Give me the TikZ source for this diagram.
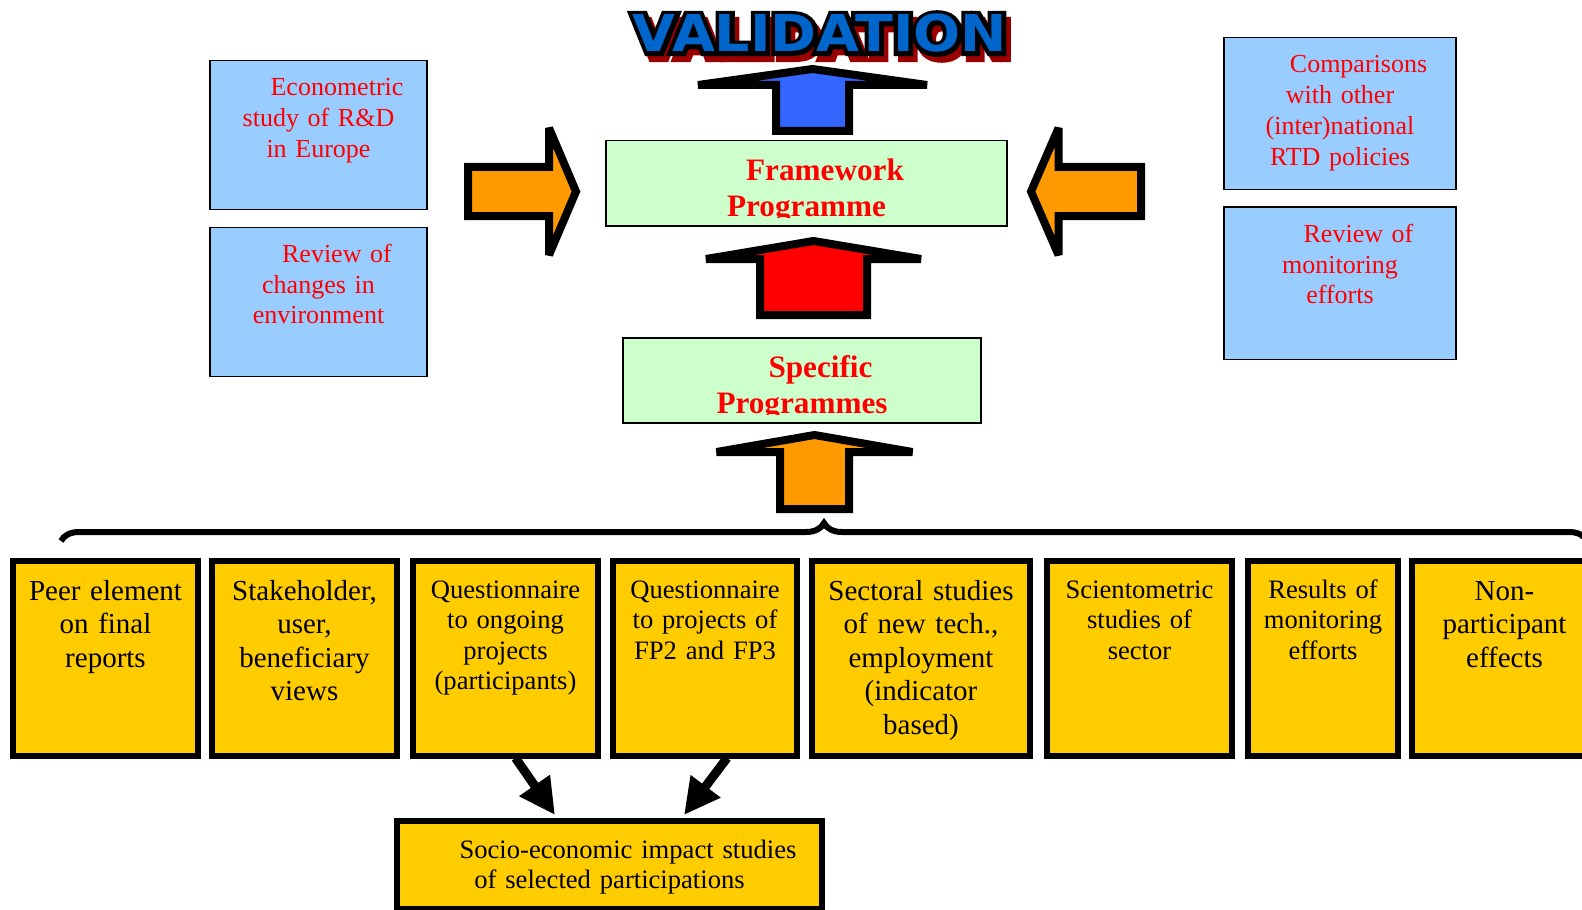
\documentclass[tikz,border=0pt]{standalone}
\usepackage{fontspec}
\setmainfont{Liberation Serif}
\newfontfamily\titlefont{DejaVu Sans Bold}
\newfontfamily\titlerim{DejaVu Sans Bold}[FakeBold=16]
\usetikzlibrary{arrows.meta, positioning, calc, decorations.pathreplacing}
\definecolor{skyfill}{HTML}{99CCFF}
\definecolor{mintfill}{HTML}{CCFFCC}
\definecolor{goldfill}{HTML}{FFCC00}
\definecolor{orangefill}{HTML}{FF9900}
\definecolor{royalfill}{HTML}{3366FF}
\definecolor{titleblue}{HTML}{0066CC}
\definecolor{titleshade}{HTML}{990000}
\tikzset{
  skybox/.style    = {draw=black, line width=0.75pt, fill=skyfill, text=red,
                      font=\fontsize{13}{15.4}\selectfont, align=center, anchor=north,
                      inner sep=0pt, text height=17.5pt},
  mintbox/.style   = {draw=black, line width=0.75pt, fill=mintfill, anchor=north, inner sep=0pt},
  mintlabel/.style = {text=red, font=\fontsize{15.6}{18}\selectfont\bfseries, align=center,
                      anchor=north, inner sep=0pt, text height=20pt},
  goldbox/.style   = {draw=black, line width=3pt, fill=goldfill, align=center, anchor=north,
                      inner sep=0pt, text height=19.5pt, text depth=78pt,
                      font=\fontsize{14.5}{16.75}\selectfont},
  goldsmall/.style = {goldbox, text height=18.5pt, text depth=79pt,
                      font=\fontsize{13.3}{15.25}\selectfont},
  blockarrow/.style = {draw=black, line width=4pt, miter limit=3},
  link/.style      = {line width=4.5pt, -{Triangle[length=18pt, width=17.5pt]}},
  groupbrace/.style = {decorate, decoration={brace, amplitude=9pt}, line width=3pt},
  titletext/.style = {anchor=base, inner sep=0pt, xscale=1.09,
                      font=\titlefont\fontsize{25.4}{30}\selectfont},
  titlerimtext/.style = {titletext, font=\titlerim\fontsize{25.4}{30}\selectfont},
}
\newcommand{\lead}{\hspace*{18.5pt}}
\newcommand{\blockup}[7]{%
  \draw[blockarrow, fill=#1] ({#2-#6},#3) -- ({#2-#6},#4) -- ({#2-#7},#4) -- (#2,#5)
    -- ({#2+#7},#4) -- ({#2+#6},#4) -- ({#2+#6},#3) -- cycle;}
\newcommand{\blockside}[7]{%
  \draw[blockarrow, fill=#1] (#3,{#2-#6}) -- (#4,{#2-#6}) -- (#4,{#2-#7}) -- (#5,#2)
    -- (#4,{#2+#7}) -- (#4,{#2+#6}) -- (#3,{#2+#6}) -- cycle;}

\begin{document}
\begin{tikzpicture}[x=0.5pt, y=-0.5pt]
  \useasboundingbox (0,0) rectangle (1582,909);

  \node[titlerimtext, text=titleshade] (shade) at (824.5,58) {VALIDATION};
  \node[titlerimtext, text=black] (rim) at (820,52) {VALIDATION};
  \node[titletext, text=titleblue] (title) at (820,52) {VALIDATION};

  \node[skybox, text width=108.5pt, text depth=57pt] (econ) at (318.5,60)
    {\lead Econometric\\study of R\&D\\in Europe};
  \node[skybox, text width=108.5pt, text depth=57pt, below=8pt of econ] (envrev)
    {\lead Review of\\changes in\\environment};
  \node[skybox, text width=116pt, text depth=58.5pt] (comp) at (1340,37)
    {\lead Comparisons\\with other\\(inter)national\\RTD policies};
  \node[skybox, text width=116pt, text depth=58.5pt, below=8pt of comp] (monrev)
    {\lead Review of\\monitoring\\efforts};

  \node[mintbox, minimum width=200.5pt, minimum height=42.5pt] (fw) at (806.5,140) {};
  \begin{scope}
    \clip (fw.north west) rectangle ($(fw.south east)+(0,-9)$);
    \node[mintlabel, text width=200.5pt] (fwlabel) at (fw.north) {\lead Framework\\Programme};
  \end{scope}
  \node[mintbox, minimum width=179pt, minimum height=42.5pt] (spec) at (802,337) {};
  \begin{scope}
    \clip (spec.north west) rectangle ($(spec.south east)+(0,-9)$);
    \node[mintlabel, text width=179pt] (speclabel) at (spec.north) {\lead Specific\\Programmes};
  \end{scope}

  \blockup{royalfill}{812.5}{131}{85}{69}{36.5}{114.5}
  \blockup{red}{813.5}{315}{259}{241}{53.5}{107.5}
  \blockup{orangefill}{814.5}{509}{452}{435}{34.5}{98}
  \blockside{orangefill}{191.5}{468}{549}{576}{24.5}{63.5}
  \blockside{orangefill}{191.5}{1141}{1058.5}{1031}{24.5}{63.5}

  \coordinate (braceL) at (61,541);
  \coordinate (braceR) at (1587,541);
  \draw[groupbrace] (braceL) -- (braceR);

  \node[goldbox, text width=92.5pt] (peer) at (105.5,558) {Peer element\\on final\\reports};
  \node[goldbox, text width=92.5pt] (stake) at (304.5,558) {Stakeholder,\\user,\\beneficiary\\views};
  \node[goldsmall, text width=92.5pt] (qongoing) at (505.5,558)
    {Questionnaire\\to ongoing\\projects\\(participants)};
  \node[goldsmall, text width=92pt] (qfp) at (705,558) {Questionnaire\\to projects of\\FP2 and FP3};
  \node[goldbox, text width=109pt] (sect) at (921,558)
    {Sectoral studies\\of new tech.,\\employment\\(indicator\\based)};
  \node[goldsmall, text width=92.5pt] (scien) at (1139.5,558) {Scientometric\\studies of\\sector};
  \node[goldsmall, text width=75pt] (monres) at (1323,558) {Results of\\monitoring\\efforts};
  \node[goldbox, text width=92.5pt] (nonpart) at (1504.5,558) {Non-\\participant\\effects};

  \node[goldsmall, text width=212.5pt, text depth=25.5pt] (socio) at (609.5,818)
    {\lead Socio-economic impact studies\\of selected participations};

  \draw[link] ($(qongoing.south)+(10,-1)$) -- ($(socio.north)+(-54.5,-3)$);
  \draw[link] ($(qfp.south)+(22,-1)$) -- ($(socio.north)+(74.5,-3)$);
\end{tikzpicture}
\end{document}
